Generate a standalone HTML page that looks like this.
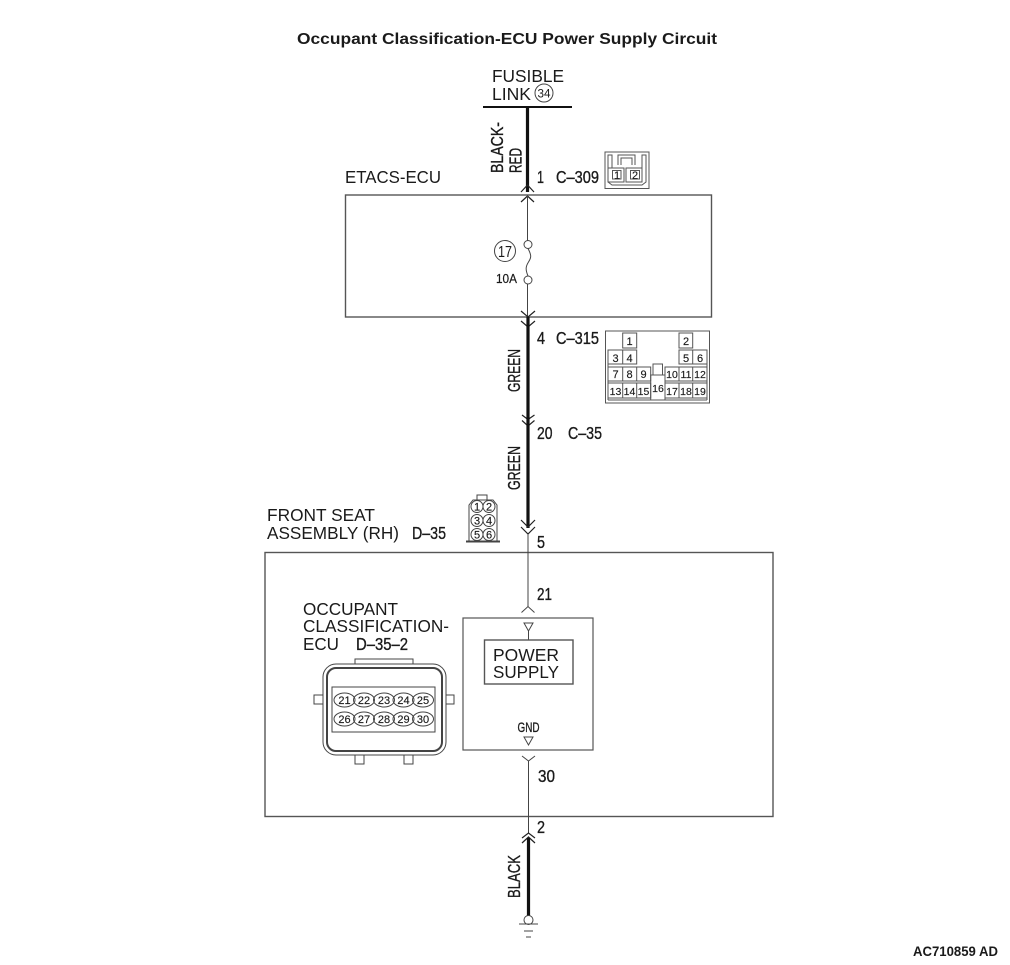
<!DOCTYPE html>
<html><head><meta charset="utf-8"><style>
html,body{margin:0;padding:0;background:#fff}
svg{display:block}
text{font-family:"Liberation Sans",sans-serif;fill:#1a1a1a}
.l{font-size:17.500px}
.n{font-size:17.500px;stroke:#1a1a1a;stroke-width:.35}
.s{font-size:11px;text-anchor:middle;stroke:#1a1a1a;stroke-width:.15}
.p{font-size:10.500px;text-anchor:middle;stroke:#1a1a1a;stroke-width:.15}
.b{fill:none;stroke:#555;stroke-width:1.4}
.c{fill:none;stroke:#222;stroke-width:1.2}
.t{fill:none;stroke:#444;stroke-width:1}
.w{fill:none;stroke:#111;stroke-width:3.2}
.f{fill:none;stroke:#555;stroke-width:1}
</style></head><body>
<svg width="1010" height="965" viewBox="0 0 1010 965" xmlns="http://www.w3.org/2000/svg">
<text x="297" y="44" font-size="16" font-weight="bold" textLength="420" lengthAdjust="spacingAndGlyphs">Occupant Classification-ECU Power Supply Circuit</text>

<text class="l" x="492" y="82" textLength="72" lengthAdjust="spacingAndGlyphs">FUSIBLE</text>
<text class="l" x="492" y="100" textLength="39" lengthAdjust="spacingAndGlyphs">LINK</text>
<circle cx="544" cy="93" r="9" class="t"/>
<text x="544" y="97.500" font-size="12" text-anchor="middle" textLength="13" lengthAdjust="spacingAndGlyphs">34</text>
<line x1="483" y1="107" x2="572" y2="107" stroke="#111" stroke-width="2"/>
<line x1="527.500" y1="107" x2="527.500" y2="192" class="w"/>
<text transform="translate(503,173) rotate(-90)" class="n" textLength="51" lengthAdjust="spacingAndGlyphs">BLACK-</text>
<text transform="translate(521.500,173) rotate(-90)" class="n" textLength="25" lengthAdjust="spacingAndGlyphs">RED</text>
<text class="n" x="537" y="183" textLength="7" lengthAdjust="spacingAndGlyphs">1</text>
<text class="n" x="556" y="183" textLength="43" lengthAdjust="spacingAndGlyphs">C–309</text>
<path d="M521 192L527.500 185L534 192M521 202L527.500 196L534 202" class="c"/>

<!-- C-309 connector -->
<g class="f">
<rect x="605" y="152" width="44" height="36.500"/>
<path d="M608 168H624V182H608ZM626 168H642V182H626ZM612.500 170.500H621V179H612.500ZM630.500 170.500H639.500V179H630.500Z"/>
<path d="M608 168V155H612V168M642 168V155H646V182L642 185H612L608 182M618 165V155H635V165M621 165V158H632V165"/>
</g>
<text class="s" x="617" y="179">1</text>
<text class="s" x="635" y="179">2</text>

<text class="l" x="345" y="183" textLength="96" lengthAdjust="spacingAndGlyphs">ETACS-ECU</text>
<rect x="345.500" y="195" width="366" height="122" class="b"/>
<line x1="527.500" y1="196" x2="527.500" y2="240.500" class="t"/>
<circle cx="528" cy="244.500" r="4" class="t"/>
<path d="M528 248.500C532 256 531 258 528.500 262C526 266 525 269 528 276" class="t"/>
<circle cx="528" cy="280" r="4" class="t"/>
<line x1="527.500" y1="284" x2="527.500" y2="318" class="t"/>
<circle cx="505" cy="251" r="10.500" class="t"/>
<text x="505" y="257" font-size="16" text-anchor="middle" textLength="14" lengthAdjust="spacingAndGlyphs">17</text>
<text x="496" y="283" font-size="13" class="n" style="font-size:13px;stroke-width:.2" textLength="21" lengthAdjust="spacingAndGlyphs">10A</text>

<path d="M521 311L528 317L535 311M521 321L528 327L535 321" class="c"/>
<line x1="528" y1="317" x2="528" y2="419" class="w"/>
<text class="n" x="537" y="344" textLength="8" lengthAdjust="spacingAndGlyphs">4</text>
<text class="n" x="556" y="344" textLength="43" lengthAdjust="spacingAndGlyphs">C–315</text>
<text transform="translate(520,392) rotate(-90)" class="n" textLength="43" lengthAdjust="spacingAndGlyphs">GREEN</text>

<!-- C-315 connector -->
<g class="f">
<rect x="605.500" y="331" width="104" height="72"/>
<path d="M608 400V350H622.700M707 350V400M608 400H707M622.700 333H636.700V348H622.700ZM679 333H692.700V348H679ZM622.700 350H636.700V364H622.700ZM608 350H622.700V364H608ZM679 350H692.700V364H679ZM692.700 350H707V364H692.700Z"/>
<path d="M608 367H622.700V381H608ZM622.700 367H636.700V381H622.700ZM636.700 367H650.700V381H636.700ZM665 367H679V381H665ZM679 367H692.700V381H679ZM692.700 367H707V381H692.700Z"/>
<path d="M608 383H622.700V398H608ZM622.700 383H636.700V398H622.700ZM636.700 383H650.700V398H636.700ZM665 383H679V398H665ZM679 383H692.700V398H679ZM692.700 383H707V398H692.700Z"/>
<path d="M650.700 375H665V400H650.700ZM653 364H662.500V375H653Z"/>
</g>
<text class="s" x="629.500" y="345">1</text><text class="s" x="686" y="345">2</text>
<text class="s" x="615.500" y="362">3</text><text class="s" x="629.500" y="362">4</text><text class="s" x="686" y="362">5</text><text class="s" x="700" y="362">6</text>
<text class="s" x="615.500" y="378">7</text><text class="s" x="629.500" y="378">8</text><text class="s" x="643.500" y="378">9</text>
<text class="p" x="672" y="378">10</text><text class="p" x="686" y="378">11</text><text class="p" x="700" y="378">12</text>
<text class="p" x="615.500" y="395">13</text><text class="p" x="629.500" y="395">14</text><text class="p" x="643.500" y="395">15</text>
<text class="p" x="658" y="392">16</text>
<text class="p" x="672" y="395">17</text><text class="p" x="686" y="395">18</text><text class="p" x="700" y="395">19</text>

<path d="M522 415L528 419.500L534.500 415M522 420.500L528 426L534.500 420.500" class="c"/>
<line x1="528" y1="417" x2="528" y2="528" class="w"/>
<text class="n" x="537" y="439" textLength="15.500" lengthAdjust="spacingAndGlyphs">20</text>
<text class="n" x="568" y="439" textLength="34" lengthAdjust="spacingAndGlyphs">C–35</text>
<text transform="translate(520,490) rotate(-90)" class="n" textLength="44" lengthAdjust="spacingAndGlyphs">GREEN</text>

<text class="l" x="267" y="521" textLength="108" lengthAdjust="spacingAndGlyphs">FRONT SEAT</text>
<text class="l" x="267" y="539" textLength="132" lengthAdjust="spacingAndGlyphs">ASSEMBLY (RH)</text>
<text class="n" x="412" y="539" textLength="34" lengthAdjust="spacingAndGlyphs">D–35</text>

<!-- D-35 connector -->
<g class="t">
<rect x="477" y="495" width="10" height="5"/>
<path d="M473 500H493L497 505V541H469V505Z"/>
<circle cx="477" cy="506.500" r="6"/><circle cx="489" cy="506.500" r="6"/>
<circle cx="477" cy="520.500" r="6"/><circle cx="489" cy="520.500" r="6"/>
<circle cx="477" cy="534.500" r="6"/><circle cx="489" cy="534.500" r="6"/>
<path d="M466 541.500H500" stroke-width="2"/>
</g>
<text class="s" x="477" y="510.500">1</text><text class="s" x="489" y="510.500">2</text>
<text class="s" x="477" y="524.500">3</text><text class="s" x="489" y="524.500">4</text>
<text class="s" x="477" y="538.500">5</text><text class="s" x="489" y="538.500">6</text>

<path d="M521 520L528 527L535 520M521 527L528 534L535 527" class="c"/>
<text class="n" x="537" y="548" textLength="8" lengthAdjust="spacingAndGlyphs">5</text>

<rect x="265" y="552.500" width="508" height="264" class="b"/>
<line x1="528" y1="534" x2="528" y2="607" class="t"/>
<text class="n" x="537" y="600" textLength="15" lengthAdjust="spacingAndGlyphs">21</text>
<path d="M521.500 612.500L528 606.500L534.500 612.500" class="t"/>

<text class="l" x="303" y="615" textLength="95" lengthAdjust="spacingAndGlyphs">OCCUPANT</text>
<text class="l" x="303" y="632" textLength="146" lengthAdjust="spacingAndGlyphs">CLASSIFICATION-</text>
<text class="l" x="303" y="650" textLength="36" lengthAdjust="spacingAndGlyphs">ECU</text>
<text class="n" x="356" y="650" textLength="52" lengthAdjust="spacingAndGlyphs">D–35–2</text>

<!-- ECU connector -->
<g class="t">
<path d="M355 664V659H413V664M323 695H314V704H323M446 695H454V704H446M355 755V764H364V755M404 755V764H413V755"/>
<rect x="323" y="664" width="123" height="91" rx="13"/>
<rect x="327" y="668" width="115" height="83" rx="9" stroke-width="2"/>
<rect x="332" y="687" width="103" height="45"/>
<ellipse cx="344.500" cy="700" rx="10.500" ry="7"/><ellipse cx="364" cy="700" rx="10.500" ry="7"/><ellipse cx="384" cy="700" rx="10.500" ry="7"/><ellipse cx="403.500" cy="700" rx="10.500" ry="7"/><ellipse cx="423" cy="700" rx="10.500" ry="7"/>
<ellipse cx="344.500" cy="719" rx="10.500" ry="7"/><ellipse cx="364" cy="719" rx="10.500" ry="7"/><ellipse cx="384" cy="719" rx="10.500" ry="7"/><ellipse cx="403.500" cy="719" rx="10.500" ry="7"/><ellipse cx="423" cy="719" rx="10.500" ry="7"/>
</g>
<text class="s" x="344.500" y="704">21</text><text class="s" x="364" y="704">22</text><text class="s" x="384" y="704">23</text><text class="s" x="403.500" y="704">24</text><text class="s" x="423" y="704">25</text>
<text class="s" x="344.500" y="723">26</text><text class="s" x="364" y="723">27</text><text class="s" x="384" y="723">28</text><text class="s" x="403.500" y="723">29</text><text class="s" x="423" y="723">30</text>

<!-- Power supply -->
<rect x="463" y="618" width="130" height="132" class="b" style="stroke-width:1.2"/>
<path d="M524 623H533L528.500 631Z" class="t"/>
<line x1="528.500" y1="631" x2="528.500" y2="640" class="t"/>
<rect x="484.500" y="640" width="88.500" height="44" class="b"/>
<text class="l" x="493" y="661" textLength="66" lengthAdjust="spacingAndGlyphs">POWER</text>
<text class="l" x="493" y="678" textLength="66" lengthAdjust="spacingAndGlyphs">SUPPLY</text>
<text x="528.500" y="732" class="n" style="font-size:13.500px;text-anchor:middle;stroke-width:.3" textLength="22" lengthAdjust="spacingAndGlyphs">GND</text>
<path d="M524 737H533L528.500 745Z" class="t"/>
<path d="M522 756L528.500 761L535 756" class="t"/>
<line x1="528.500" y1="761" x2="528.500" y2="833" class="t"/>
<text class="n" x="538" y="782" textLength="17" lengthAdjust="spacingAndGlyphs">30</text>

<text class="n" x="537" y="833" textLength="8" lengthAdjust="spacingAndGlyphs">2</text>
<path d="M522 838L528.500 833L535 838M522 843L528.500 837L535 843" class="c"/>
<line x1="528.500" y1="838" x2="528.500" y2="916" class="w"/>
<text transform="translate(520,898) rotate(-90)" class="n" textLength="43" lengthAdjust="spacingAndGlyphs">BLACK</text>
<circle cx="528.500" cy="920" r="4.500" class="t"/>
<path d="M519 924H538M524 931H533M526 937H531" class="t"/>

<text x="913" y="956" font-size="14" font-weight="bold" textLength="85" lengthAdjust="spacingAndGlyphs">AC710859 AD</text>
</svg>
</body></html>
